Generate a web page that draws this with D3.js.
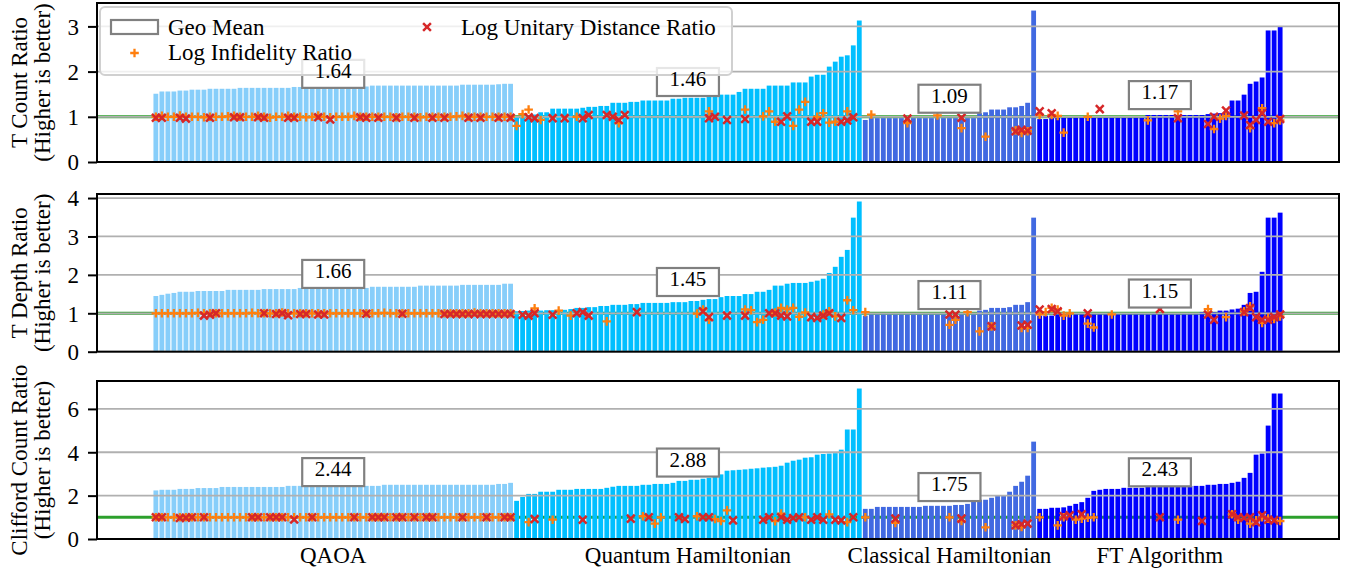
<!DOCTYPE html>
<html>
<head>
<meta charset="utf-8">
<script src="https://cdn.jsdelivr.net/npm/d3@7"></script>
<style>
  body { margin: 0; background: #fff; }
  svg { display: block; }
  text { font-family: "Liberation Serif", "Times New Roman", Times, serif; fill: #000; }
</style>
</head>
<body>
<svg id="chart" width="1351" height="573"></svg>
<script>
// ---------------- DATA ----------------
const categories = ["QAOA", "Quantum Hamiltonian", "Classical Hamiltonian", "FT Algorithm"];
const legendLabels = ["Geo Mean", "Log Infidelity Ratio", "Log Unitary Distance Ratio"];
const yTitles = [["T Count Ratio", "(Higher is better)"], ["T Depth Ratio", "(Higher is better)"], ["Clifford Count Ratio", "(Higher is better)"]];
const yTicks1 = [0, 1, 2, 3];
const yTicks2 = [0, 1, 2, 3, 4];
const yTicks3 = [0, 2, 4, 6];
const geoMean1 = [1.64, 1.46, 1.09, 1.17];
const geoMean2 = [1.66, 1.45, 1.11, 1.15];
const geoMean3 = [2.44, 2.88, 1.75, 2.43];

// T Count ratio bars
const tcQAOA = [1.51, 1.56, 1.56, 1.56, 1.58, 1.58, 1.60, 1.60, 1.60, 1.62, 1.62, 1.62, 1.62, 1.62,
  1.64, 1.64, 1.64, 1.64, 1.64, 1.64, 1.64, 1.64, 1.64, 1.66, 1.66, 1.66, 1.67, 1.67, 1.67, 1.67, 1.67,
  1.67, 1.67, 1.67, 1.67, 1.67, 1.69, 1.69, 1.69, 1.69, 1.69, 1.69, 1.69, 1.69, 1.69, 1.69, 1.69, 1.69,
  1.69, 1.69, 1.69, 1.71, 1.71, 1.71, 1.71, 1.71, 1.71, 1.72, 1.73, 1.73];
const tcQuantum = [1.00, 1.02, 1.03, 1.05, 1.10, 1.10, 1.18, 1.18, 1.18, 1.18, 1.18, 1.20, 1.22, 1.22,
  1.24, 1.24, 1.31, 1.31, 1.31, 1.33, 1.33, 1.36, 1.36, 1.36, 1.36, 1.36, 1.40, 1.40, 1.42, 1.42, 1.42,
  1.42, 1.44, 1.44, 1.49, 1.49, 1.49, 1.55, 1.62, 1.62, 1.62, 1.62, 1.69, 1.69, 1.69, 1.69, 1.76, 1.76,
  1.76, 1.89, 1.93, 1.93, 2.11, 2.22, 2.33, 2.36, 2.58, 3.13];
const tcClassical = [0.93, 0.97, 0.97, 0.97, 0.97, 0.97, 0.97, 0.97, 0.97, 0.97, 0.97, 0.97, 0.97, 0.97,
  0.97, 0.97, 0.97, 0.97, 0.97, 1.08, 1.10, 1.16, 1.16, 1.16, 1.21, 1.21, 1.24, 1.31, 3.35];
const tcFT = [0.95, 0.95, 0.97, 0.98, 0.98, 0.98, 0.98, 0.98, 0.98, 0.98, 0.98, 0.98, 0.98, 0.98, 0.98,
  0.98, 0.98, 0.98, 1.04, 1.04, 1.04, 1.04, 1.04, 1.04, 1.04, 1.04, 1.04, 1.04, 1.06, 1.07, 1.08, 1.10,
  1.36, 1.36, 1.49, 1.73, 1.78, 1.87, 2.91, 2.91, 3.00];

// T Depth ratio bars
const tdQAOA = [1.45, 1.48, 1.51, 1.53, 1.56, 1.56, 1.56, 1.58, 1.58, 1.58, 1.58, 1.58, 1.61, 1.61, 1.61,
  1.61, 1.61, 1.61, 1.63, 1.63, 1.63, 1.63, 1.63, 1.63, 1.66, 1.66, 1.66, 1.66, 1.66, 1.66, 1.66, 1.66,
  1.66, 1.66, 1.66, 1.66, 1.69, 1.69, 1.69, 1.69, 1.69, 1.69, 1.69, 1.69, 1.72, 1.72, 1.72, 1.72, 1.72,
  1.72, 1.72, 1.74, 1.74, 1.74, 1.74, 1.74, 1.74, 1.74, 1.77, 1.77];
const tdQuantum = [1.05, 1.06, 1.07, 1.07, 1.07, 1.08, 1.08, 1.08, 1.09, 1.11, 1.14, 1.14, 1.16, 1.16,
  1.19, 1.19, 1.22, 1.22, 1.22, 1.24, 1.24, 1.27, 1.27, 1.27, 1.27, 1.27, 1.29, 1.29, 1.29, 1.32, 1.32,
  1.35, 1.37, 1.37, 1.42, 1.45, 1.45, 1.45, 1.50, 1.50, 1.56, 1.56, 1.61, 1.72, 1.72, 1.77, 1.79, 1.79,
  1.79, 1.82, 1.85, 1.90, 2.05, 2.21, 2.47, 2.65, 3.49, 3.91];
const tdClassical = [0.94, 0.97, 0.97, 0.97, 0.97, 0.97, 0.97, 0.97, 0.97, 0.97, 0.97, 0.97, 0.97, 0.97,
  0.97, 0.97, 0.97, 0.97, 0.97, 1.07, 1.09, 1.14, 1.14, 1.14, 1.16, 1.22, 1.22, 1.29, 3.49];
const tdFT = [0.94, 0.94, 0.94, 0.97, 0.97, 0.97, 0.97, 0.97, 0.97, 0.97, 0.97, 0.97, 0.97, 0.97, 0.97,
  0.97, 0.97, 0.97, 0.97, 0.97, 0.97, 0.97, 0.97, 0.97, 0.97, 0.97, 0.97, 1.03, 1.03, 1.03, 1.07, 1.07,
  1.10, 1.12, 1.22, 1.53, 1.56, 2.08, 3.49, 3.49, 3.62];

// Clifford count ratio bars
const ccQAOA = [2.24, 2.27, 2.27, 2.27, 2.31, 2.31, 2.31, 2.35, 2.35, 2.35, 2.35, 2.40, 2.40, 2.40, 2.40,
  2.40, 2.40, 2.40, 2.40, 2.40, 2.40, 2.40, 2.45, 2.45, 2.45, 2.45, 2.45, 2.45, 2.45, 2.45, 2.45, 2.45,
  2.45, 2.45, 2.45, 2.45, 2.45, 2.45, 2.50, 2.50, 2.50, 2.50, 2.50, 2.50, 2.50, 2.50, 2.50, 2.50, 2.50,
  2.50, 2.50, 2.50, 2.50, 2.50, 2.50, 2.50, 2.50, 2.54, 2.54, 2.59];
const ccQuantum = [1.76, 1.94, 2.08, 2.08, 2.18, 2.18, 2.18, 2.27, 2.27, 2.27, 2.31, 2.31, 2.31, 2.31,
  2.31, 2.36, 2.41, 2.45, 2.45, 2.45, 2.45, 2.50, 2.50, 2.54, 2.54, 2.54, 2.59, 2.68, 2.68, 2.73, 2.73,
  2.78, 2.82, 2.90, 2.98, 3.15, 3.17, 3.19, 3.21, 3.24, 3.26, 3.29, 3.31, 3.33, 3.38, 3.52, 3.61, 3.66,
  3.75, 3.77, 3.89, 3.92, 3.94, 3.96, 4.12, 5.05, 5.05, 6.94];
const ccClassical = [1.39, 1.39, 1.48, 1.48, 1.48, 1.48, 1.48, 1.48, 1.48, 1.48, 1.53, 1.53, 1.53, 1.53,
  1.53, 1.57, 1.57, 1.62, 1.76, 1.81, 1.81, 1.90, 1.99, 1.99, 2.18, 2.45, 2.64, 2.92, 4.49];
const ccFT = [1.39, 1.39, 1.44, 1.44, 1.46, 1.53, 1.62, 1.70, 1.90, 2.22, 2.27, 2.31, 2.31, 2.31, 2.36,
  2.36, 2.36, 2.36, 2.40, 2.40, 2.40, 2.40, 2.40, 2.40, 2.45, 2.45, 2.45, 2.45, 2.50, 2.50, 2.54, 2.54,
  2.59, 2.64, 2.82, 3.05, 3.89, 3.94, 5.23, 6.71, 6.71];

// Log infidelity ratio (QAOA: every circuit)
const infQAOA1 = [1.00, 1.02, 1.00, 1.00, 1.03, 1.00, 1.00, 1.00, 0.99, 1.00, 1.00, 1.00, 1.01, 1.02, 1.00,
  1.00, 1.00, 1.02, 1.00, 0.98, 1.00, 1.00, 1.02, 1.00, 1.00, 0.99, 1.00, 1.03, 1.00, 0.99, 1.00, 1.00,
  1.00, 1.02, 1.00, 1.00, 1.00, 1.00, 1.00, 1.00, 0.99, 1.00, 1.00, 1.00, 0.99, 1.00, 1.00, 1.00, 1.00,
  1.00, 1.01, 1.02, 1.00, 1.00, 1.00, 1.00, 1.00, 1.00, 1.00, 1.00];
const infQAOA2 = [1.00, 1.00, 1.00, 1.00, 1.00, 1.00, 1.00, 1.01, 1.00, 1.00, 1.00, 1.00, 1.00, 1.00, 1.00,
  1.00, 1.01, 1.00, 1.00, 1.00, 1.00, 1.02, 1.00, 1.00, 1.00, 1.00, 1.00, 1.00, 1.00, 1.00, 1.00, 1.00,
  1.00, 1.00, 1.00, 1.00, 1.00, 1.00, 1.01, 1.00, 1.00, 1.00, 1.00, 1.00, 1.00, 1.00, 1.00, 1.00, 1.00,
  1.00, 1.00, 1.00, 1.00, 1.02, 1.00, 1.00, 1.00, 1.00, 1.00, 1.00];
const infQAOA3 = [1.00, 1.00, 1.00, 1.00, 1.00, 1.00, 1.00, 1.00, 1.00, 1.00, 1.00, 1.00, 1.00, 1.00, 1.00,
  1.00, 1.00, 1.00, 1.00, 1.00, 1.00, 1.00, 1.00, 1.00, 1.00, 1.00, 1.00, 1.00, 1.00, 1.00, 1.00, 1.00,
  1.00, 1.00, 1.00, 1.00, 1.00, 1.00, 1.00, 1.00, 1.00, 1.00, 1.00, 1.00, 1.00, 1.00, 1.00, 1.00, 1.00,
  1.00, 1.00, 1.00, 1.00, 1.00, 1.00, 1.00, 1.00, 1.00, 1.00, 1.00];
// sparse [circuit index within group, value]
const infQuantum1 = [[0, 0.80], [1, 1.06], [2, 1.16], [4, 0.93], [10, 1.00], [17, 0.86], [32, 1.12], [38, 1.16], [41, 1.01], [42, 1.12], [43, 0.89], [46, 0.80], [47, 1.16], [48, 1.33], [50, 1.00], [51, 1.08], [52, 0.87], [53, 0.89], [55, 1.12]];
const infClassical1 = [[1, 1.05], [7, 0.86], [12, 1.03], [16, 0.75], [20, 0.56], [25, 0.70], [26, 0.64], [27, 0.68]];
const infFT1 = [[0, 1.04], [2, 1.04], [3, 1.02], [4, 0.65], [8, 1.00], [18, 0.92], [23, 1.12], [29, 0.73], [30, 0.96], [31, 1.02], [35, 0.75], [37, 1.19], [39, 0.86], [40, 0.92]];
const infQuantum2 = [[3, 1.13], [7, 1.07], [9, 0.94], [15, 0.79], [30, 0.99], [31, 1.10], [32, 0.83], [38, 1.10], [39, 1.08], [40, 0.77], [41, 0.83], [43, 1.02], [44, 1.14], [45, 1.10], [46, 1.14], [47, 0.91], [48, 1.02], [51, 0.97], [52, 1.05], [53, 0.92], [55, 1.34], [56, 1.08]];
const infClassical2 = [[0, 1.03], [14, 0.70], [15, 0.83], [17, 1.03], [19, 0.53], [21, 0.66], [26, 0.62], [27, 0.62]];
const infFT2 = [[0, 0.97], [1, 1.03], [2, 1.14], [3, 1.10], [4, 0.94], [5, 1.00], [8, 0.73], [9, 0.63], [12, 0.97], [20, 1.20], [28, 1.11], [31, 0.90], [34, 1.05], [35, 1.18], [37, 0.75], [38, 0.88], [39, 0.85], [40, 0.92]];
const infQuantum3 = [[2, 0.78], [6, 0.89], [21, 1.05], [23, 0.71], [24, 1.00], [30, 1.05], [33, 0.92], [34, 0.83], [35, 1.32], [43, 0.82], [44, 1.17], [48, 1.00], [52, 1.14], [55, 0.78]];
const infClassical3 = [[0, 1.00], [5, 0.74], [14, 1.00], [16, 0.83], [20, 0.54], [25, 0.63], [26, 0.55]];
const infFT3 = [[0, 1.00], [3, 0.63], [4, 1.00], [6, 0.89], [7, 0.94], [8, 0.98], [9, 1.00], [23, 0.89], [32, 1.14], [33, 0.89], [35, 0.71], [36, 0.86], [37, 1.00], [38, 0.94], [40, 0.83]];

// Log unitary distance ratio (sparse [index within group, value])
const udQAOA1 = [[0, 0.98], [1, 0.98], [4, 0.98], [5, 0.96], [9, 0.98], [13, 0.99], [14, 0.99], [17, 0.99], [18, 0.98], [22, 0.98], [23, 0.98], [27, 0.99], [29, 0.94], [34, 0.99], [35, 0.98], [37, 0.98], [40, 0.98], [43, 0.98], [46, 0.98], [48, 0.98], [52, 0.98], [54, 0.98], [57, 0.98], [59, 0.98]];
const udQuantum1 = [[2, 0.99], [3, 0.97], [6, 0.97], [8, 0.97], [11, 0.97], [12, 1.04], [15, 1.04], [16, 1.00], [17, 0.93], [18, 1.04], [32, 0.97], [33, 1.00], [35, 0.93], [38, 0.95], [44, 0.89], [45, 1.01], [49, 0.89], [50, 0.89], [54, 0.89], [55, 0.92], [56, 0.99]];
const udClassical1 = [[7, 0.96], [16, 0.98], [25, 0.68], [26, 0.71], [27, 0.69]];
const udFT1 = [[0, 1.12], [2, 1.08], [10, 1.17], [23, 0.97], [28, 0.84], [29, 1.00], [31, 1.14], [34, 1.03], [35, 0.82], [36, 0.93], [37, 1.08], [38, 0.89], [40, 0.95]];
const udQAOA2 = [[8, 0.94], [9, 0.96], [10, 1.00], [18, 1.00], [20, 0.98], [21, 1.00], [22, 0.95], [24, 0.98], [25, 0.98], [27, 0.97], [28, 0.97], [35, 0.99], [41, 0.99], [48, 0.98], [49, 0.98], [50, 0.98], [51, 0.98], [52, 0.98], [53, 0.98], [54, 0.98], [55, 0.98], [56, 0.98], [57, 0.98], [58, 0.98], [59, 0.98]];
const udQuantum2 = [[1, 0.96], [2, 0.94], [3, 1.00], [6, 0.96], [10, 1.00], [11, 1.03], [12, 0.94], [20, 1.03], [31, 1.05], [32, 0.90], [35, 0.94], [38, 0.94], [42, 1.00], [43, 1.00], [44, 0.94], [45, 0.92], [49, 0.90], [50, 0.88], [51, 0.94], [52, 1.00], [54, 0.88]];
const udClassical2 = [[14, 0.97], [15, 0.97], [21, 0.66], [26, 0.68], [27, 0.70]];
const udFT2 = [[0, 1.10], [2, 1.11], [3, 1.05], [8, 1.00], [20, 1.11], [28, 0.97], [29, 0.83], [34, 1.03], [35, 1.14], [36, 0.90], [37, 0.83], [38, 0.83], [39, 0.90], [40, 0.97]];
const udQAOA3 = [[0, 1.00], [1, 1.00], [4, 0.97], [5, 0.98], [6, 1.00], [8, 1.00], [16, 1.00], [17, 1.00], [19, 1.00], [20, 1.00], [21, 1.00], [23, 0.90], [26, 1.00], [33, 1.00], [36, 1.00], [37, 1.00], [38, 1.00], [40, 1.00], [41, 1.00], [43, 1.00], [45, 1.00], [46, 1.00], [51, 1.00], [55, 1.00], [58, 1.00], [59, 1.00]];
const udQuantum3 = [[3, 0.92], [11, 0.89], [19, 0.94], [22, 1.00], [27, 1.00], [28, 0.92], [31, 1.00], [32, 1.00], [36, 0.86], [41, 0.89], [42, 1.00], [44, 1.00], [45, 0.89], [46, 0.97], [47, 1.00], [49, 0.89], [50, 1.00], [51, 0.89], [53, 0.89], [54, 0.86], [56, 1.00]];
const udClassical3 = [[5, 0.94], [16, 0.94], [25, 0.63], [26, 0.68], [27, 0.71]];
const udFT3 = [[4, 1.05], [5, 1.09], [7, 1.14], [20, 1.00], [27, 0.83], [32, 1.14], [33, 1.00], [34, 0.97], [35, 1.00], [36, 0.77], [37, 1.09], [38, 0.89], [39, 0.86]];

// ---------------- STYLE / LAYOUT ----------------
const groupColors = ["#87cefa", "#00bfff", "#4169e1", "#0000ff"];
const infColor = "#ff7f0e", udColor = "#d62728", refColor = "#2ca02c", gridColor = "#b0b0b0", boxColor = "#808080";
const plotL = 97, plotR = 1339;
const FONT = 23;

const panelDefs = [
  { top: 3, bottom: 162, bars: [tcQAOA, tcQuantum, tcClassical, tcFT],
    inf: [infQAOA1.map((v, i) => [i, v]), infQuantum1, infClassical1, infFT1],
    ud: [udQAOA1, udQuantum1, udClassical1, udFT1], geo: geoMean1, ticks: yTicks1, title: yTitles[0] },
  { top: 194, bottom: 351.7, bars: [tdQAOA, tdQuantum, tdClassical, tdFT],
    inf: [infQAOA2.map((v, i) => [i, v]), infQuantum2, infClassical2, infFT2],
    ud: [udQAOA2, udQuantum2, udClassical2, udFT2], geo: geoMean2, ticks: yTicks2, title: yTitles[1] },
  { top: 381, bottom: 539, bars: [ccQAOA, ccQuantum, ccClassical, ccFT],
    inf: [infQAOA3.map((v, i) => [i, v]), infQuantum3, infClassical3, infFT3],
    ud: [udQAOA3, udQuantum3, udClassical3, udFT3], geo: geoMean3, ticks: yTicks3, title: yTitles[2] }
];

const svg = d3.select("#chart");
const plusPath = "M-4.3,0H4.3M0,-4.3V4.3";
const xPath = "M-3.9,-3.9L3.9,3.9M-3.9,3.9L3.9,-3.9";
const topLayer = []; // geo-mean texts drawn last

panelDefs.forEach((p, pi) => {
  const offsets = [];
  let n = 0;
  p.bars.forEach((arr) => { offsets.push(n); n += arr.length; });
  const rows = [];
  p.bars.forEach((arr, g) => arr.forEach((v, k) => rows.push({ i: offsets[g] + k, g, v })));
  const N = rows.length;
  const Wd = N - 1 + 0.8;
  const x = d3.scaleLinear().domain([-0.4 - 0.05 * Wd, N - 1 + 0.4 + 0.05 * Wd]).range([plotL, plotR]);
  const step = x(1) - x(0);
  const bw = 0.8 * step;
  const ymax = d3.max(rows, d => d.v) * 1.05;
  const y = d3.scaleLinear().domain([0, ymax]).range([p.bottom, p.top]);

  const gP = svg.append("g");
  const clipId = "clip" + pi;
  svg.append("clipPath").attr("id", clipId).append("rect")
    .attr("x", plotL).attr("y", p.top).attr("width", plotR - plotL).attr("height", p.bottom - p.top);
  const inner = gP.append("g").attr("clip-path", `url(#${clipId})`);

  // reference line at 1 (behind bars)
  inner.append("line").attr("x1", plotL).attr("x2", plotR).attr("y1", y(1)).attr("y2", y(1))
    .attr("stroke", refColor).attr("stroke-width", 3);

  // bars
  inner.selectAll("rect.bar").data(rows).enter().append("rect").attr("class", "bar")
    .attr("x", d => x(d.i) - bw / 2).attr("width", bw)
    .attr("y", d => y(d.v)).attr("height", d => y(0) - y(d.v))
    .attr("fill", d => groupColors[d.g]);

  // gridlines (on top of bars)
  inner.selectAll("line.grid").data(p.ticks).enter().append("line").attr("class", "grid")
    .attr("x1", plotL).attr("x2", plotR).attr("y1", d => y(d)).attr("y2", d => y(d))
    .attr("stroke", gridColor).attr("stroke-width", 1.8);

  // markers
  const infPts = [], udPts = [];
  p.inf.forEach((arr, g) => arr.forEach(([k, v]) => infPts.push({ i: offsets[g] + k, v })));
  p.ud.forEach((arr, g) => arr.forEach(([k, v]) => udPts.push({ i: offsets[g] + k, v })));
  inner.selectAll("path.inf").data(infPts).enter().append("path").attr("class", "inf")
    .attr("d", plusPath).attr("transform", d => `translate(${x(d.i)},${y(d.v)})`)
    .attr("stroke", infColor).attr("stroke-width", 2.3).attr("fill", "none");
  inner.selectAll("path.ud").data(udPts).enter().append("path").attr("class", "ud")
    .attr("d", xPath).attr("transform", d => `translate(${x(d.i)},${y(d.v)})`)
    .attr("stroke", udColor).attr("stroke-width", 2.5).attr("fill", "none");

  // frame
  gP.append("rect").attr("x", plotL).attr("y", p.top).attr("width", plotR - plotL).attr("height", p.bottom - p.top)
    .attr("fill", "none").attr("stroke", "#000").attr("stroke-width", 2);

  // y axis ticks
  const axis = d3.axisLeft(y).tickValues(p.ticks).tickFormat(d3.format("d")).tickSize(9).tickPadding(9);
  const ax = gP.append("g").attr("transform", `translate(${plotL},0)`).call(axis);
  ax.select(".domain").remove();
  ax.attr("font-family", null);
  ax.selectAll(".tick line").attr("stroke", "#000").attr("stroke-width", 2);
  ax.selectAll(".tick text").attr("font-size", FONT).attr("dy", "0.34em");

  // y title
  const cy = (p.top + p.bottom) / 2;
  [27, 50].forEach((bx, li) => {
    gP.append("text").attr("transform", `translate(${bx},${cy}) rotate(-90)`)
      .attr("text-anchor", "middle").attr("font-size", FONT).text(p.title[li]);
  });

  // geo mean boxes
  const centers = p.bars.map((arr, g) => (x(offsets[g]) + x(offsets[g] + arr.length - 1)) / 2);
  p.geo.forEach((gm, g) => {
    const yb = y(gm);
    const bwBox = 62, bh = 28;
    gP.append("rect").attr("x", centers[g] - bwBox / 2).attr("y", yb - bh).attr("width", bwBox).attr("height", bh)
      .attr("fill", "#fff").attr("stroke", boxColor).attr("stroke-width", 2.2);
    topLayer.push({ x: centers[g], y: yb - 10, t: gm.toFixed(2) });
  });

  // category labels on bottom panel
  if (pi === panelDefs.length - 1) {
    categories.forEach((c, g) => {
      svg.append("text").attr("x", centers[g]).attr("y", 563).attr("text-anchor", "middle")
        .attr("font-size", FONT).text(c);
    });
  }
});

// legend (top panel)
const lg = svg.append("g");
lg.append("rect").attr("x", 100).attr("y", 7).attr("width", 632).attr("height", 68).attr("rx", 5)
  .attr("fill", "#fff").attr("fill-opacity", 0.8).attr("stroke", "#d0d0d0").attr("stroke-width", 2);
lg.append("rect").attr("x", 111).attr("y", 20).attr("width", 47).attr("height", 14)
  .attr("fill", "#fff").attr("stroke", boxColor).attr("stroke-width", 2.2);
lg.append("text").attr("x", 168).attr("y", 35).attr("font-size", FONT).text(legendLabels[0]);
lg.append("path").attr("d", plusPath).attr("transform", "translate(134.5,53)")
  .attr("stroke", infColor).attr("stroke-width", 2.3).attr("fill", "none");
lg.append("text").attr("x", 168).attr("y", 60).attr("font-size", FONT).text(legendLabels[1]);
lg.append("path").attr("d", xPath).attr("transform", "translate(427,27)")
  .attr("stroke", udColor).attr("stroke-width", 2.5).attr("fill", "none");
lg.append("text").attr("x", 461).attr("y", 35).attr("font-size", FONT).text(legendLabels[2]);

// geo-mean value texts on top
svg.append("g").selectAll("text").data(topLayer).enter().append("text")
  .attr("x", d => d.x).attr("y", d => d.y).attr("text-anchor", "middle").attr("font-size", 21)
  .text(d => d.t);
</script>
</body>
</html>
